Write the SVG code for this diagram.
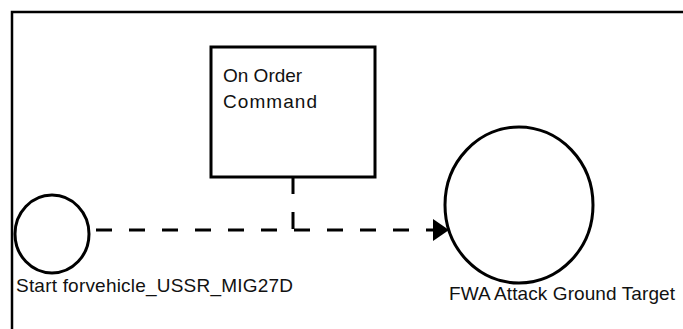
<svg xmlns="http://www.w3.org/2000/svg" width="683" height="329" viewBox="0 0 683 329">
<style>
.frame{fill:none;stroke:#000;stroke-width:2.5}
.shape{fill:#fff;stroke:#000;stroke-width:3}
.conn{fill:none;stroke:#000;stroke-width:3}
.lbl{font-family:"Liberation Sans",Arial,sans-serif;font-size:19px;fill:#111}
</style>
<defs>
<marker id="arrow" markerUnits="userSpaceOnUse" markerWidth="18" markerHeight="24" refX="16" refY="11" orient="auto">
<polygon points="0,0 16,11 0,22" fill="#000"/>
</marker>
</defs>
<rect width="683" height="329" fill="#fff"/>
<path class="frame" d="M12,329 V12 H683"/>
<g id="connectors">
<path class="conn" d="M96,230 H449" stroke-dasharray="16 17" marker-end="url(#arrow)"/>
<path class="conn" d="M293,177 V231" stroke-dasharray="17 18"/>
</g>
<g id="on-order-command">
<rect class="shape" x="211" y="47" width="164" height="130"/>
<text class="lbl" x="223" y="82">On Order</text>
<text class="lbl" x="223" y="108" textLength="94">Command</text>
</g>
<g id="start">
<ellipse class="shape" cx="52" cy="234" rx="37" ry="39"/>
<text class="lbl" x="16" y="292" textLength="277">Start forvehicle_USSR_MIG27D</text>
</g>
<g id="fwa-attack">
<ellipse class="shape" cx="519" cy="205" rx="74" ry="78"/>
<text class="lbl" x="449" y="300" textLength="226">FWA Attack Ground Target</text>
</g>
</svg>
